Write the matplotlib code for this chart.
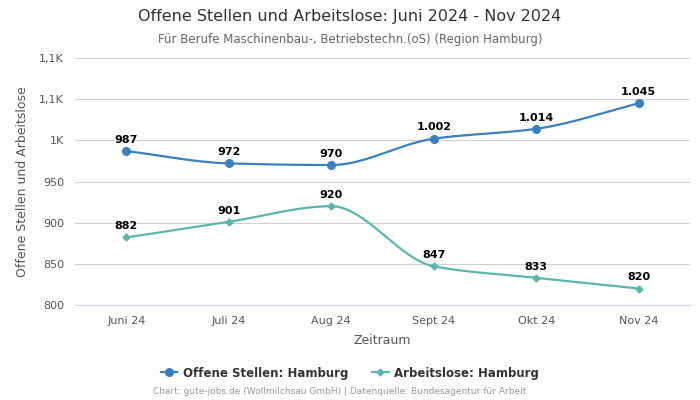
import numpy as np
import matplotlib.pyplot as plt
from matplotlib.ticker import FuncFormatter

months = ['Juni 24', 'Juli 24', 'Aug 24', 'Sept 24', 'Okt 24', 'Nov 24']
offene = [987, 972, 970, 1002, 1014, 1045]
arbeitslose = [882, 901, 920, 847, 833, 820]

c_off = '#3a80c1'
c_arb = '#5cb5ad'


def monotone_curve(y, steps=40):
    # Fritsch-Carlson monotone cubic, only for drawing the smooth line
    x = np.arange(len(y), dtype=float)
    y = np.asarray(y, dtype=float)
    d = np.diff(y)
    m = np.zeros(len(y))
    m[0], m[-1] = d[0], d[-1]
    for i in range(1, len(y) - 1):
        if d[i - 1] * d[i] <= 0:
            m[i] = 0
        else:
            m[i] = 2 / (1 / d[i - 1] + 1 / d[i])
    xs, ys = [], []
    for i in range(len(y) - 1):
        t = np.linspace(0, 1, steps)
        h00 = 2 * t**3 - 3 * t**2 + 1
        h10 = t**3 - 2 * t**2 + t
        h01 = -2 * t**3 + 3 * t**2
        h11 = t**3 - t**2
        xs.append(x[i] + t)
        ys.append(h00 * y[i] + h10 * m[i] + h01 * y[i + 1] + h11 * m[i + 1])
    return np.concatenate(xs), np.concatenate(ys)


def fmt(v, pos):
    if v >= 1000:
        s = f'{v / 1000:.1f}'.rstrip('0').rstrip('.')
        return s.replace('.', ',') + 'K'
    return f'{v:.0f}'


fig = plt.figure(figsize=(7, 4), dpi=100)
ax = fig.add_axes([75 / 700, 1 - 305 / 400, 615 / 700, 247 / 400])

x = np.arange(len(months))
for vals, col, mk, ms in [(offene, c_off, 'o', 5.5), (arbeitslose, c_arb, 'D', 3.5)]:
    cx, cy = monotone_curve(vals)
    ax.plot(cx, cy, color=col, lw=1.6, zorder=3)
    ax.plot(x, vals, linestyle='none', marker=mk, color=col, ms=ms, zorder=4)
    for xi, v in zip(x, vals):
        ax.annotate(f'{v:,}'.replace(',', '.'), (xi, v), xytext=(0, 4.5), textcoords='offset points',
                    ha='center', va='bottom', fontsize=8, fontweight='bold', color='black', zorder=5)

ax.set_xlim(-0.5, 5.5)
ax.set_ylim(800, 1100)
ax.set_yticks(np.arange(800, 1101, 50))
ax.yaxis.set_major_formatter(FuncFormatter(fmt))
ax.set_xticks(x)
ax.set_xticklabels(months)
ax.grid(axis='y', color='#d0d0d0', lw=0.8)
ax.set_axisbelow(True)
for s in ['top', 'right', 'left']:
    ax.spines[s].set_visible(False)
ax.spines['bottom'].set_color('#ccd6eb')
ax.tick_params(axis='both', length=0, labelsize=8, colors='#555555', pad=8)
ax.set_xlabel('Zeitraum', fontsize=9, color='#555555', labelpad=6)
ax.set_ylabel('Offene Stellen und Arbeitslose', fontsize=9, color='#555555', labelpad=7)

fig.text(0.5, 1 - 17 / 400, 'Offene Stellen und Arbeitslose: Juni 2024 - Nov 2024',
         ha='center', va='center', fontsize=11.5, color='#333333')
fig.text(0.5, 1 - 39 / 400, 'Für Berufe Maschinenbau-, Betriebstechn.(oS) (Region Hamburg)',
         ha='center', va='center', fontsize=8.5, color='#666666')

h1, = ax.plot([], [], color=c_off, marker='o', ms=5.5, lw=1.6)
h2, = ax.plot([], [], color=c_arb, marker='D', ms=3.5, lw=1.6)
leg = fig.legend([h1, h2], ['Offene Stellen: Hamburg', 'Arbeitslose: Hamburg'],
                 loc='center', bbox_to_anchor=(0.5, 1 - 373 / 400), ncol=2, frameon=False,
                 prop={'size': 8.5, 'weight': 'bold'}, handlelength=1.4, columnspacing=2.0,
                 handletextpad=0.5)
for t in leg.get_texts():
    t.set_color('#333333')

fig.text(340 / 700, 1 - 392 / 400, 'Chart: gute-jobs.de (Wollmilchsau GmbH) | Datenquelle: Bundesagentur für Arbeit',
         ha='center', va='center', fontsize=6.5, color='#999999')

fig.savefig('out.png', dpi=100)
